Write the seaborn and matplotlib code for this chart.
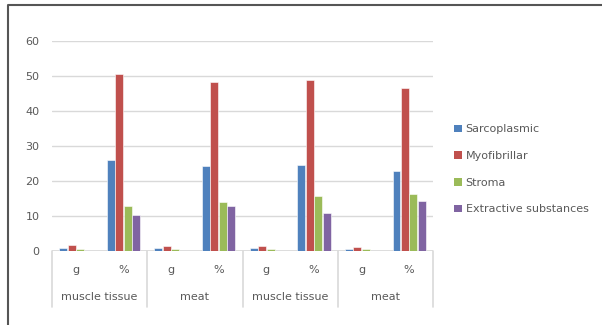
import matplotlib
matplotlib.use("Agg")
import matplotlib.pyplot as plt
import matplotlib.transforms as mtransforms
from matplotlib.lines import Line2D
from matplotlib.patches import Patch
import pandas as pd
import seaborn as sns

# data
groups = ["muscle tissue", "meat", "muscle tissue", "meat"]
units = ["g", "%"]
series = ["Sarcoplasmic", "Myofibrillar", "Stroma", "Extractive substances"]
sarcoplasmic = [0.9, 26.0, 0.8, 24.3, 0.8, 24.7, 0.5, 23.0]
myofibrillar = [1.8, 50.7, 1.5, 48.4, 1.5, 48.8, 1.2, 46.7]
stroma = [0.5, 12.8, 0.45, 14.1, 0.45, 15.6, 0.45, 16.2]
extractive = [0.1, 10.4, 0.1, 13.0, 0.1, 11.0, 0.1, 14.2]
colors = ["#4F81BD", "#C0504D", "#9BBB59", "#8064A2"]

# long-form table, one row per bar
slots = [f"{i}" for i in range(len(groups) * len(units))]
rows = []
for name, vals in zip(series, [sarcoplasmic, myofibrillar, stroma, extractive]):
    for slot, v in zip(slots, vals):
        rows.append({"slot": slot, "series": name, "value": v})
df = pd.DataFrame(rows)

sns.set_style("white")
plt.rcParams['font.family'] = ['DejaVu Sans']
text_color = "#595959"
line_color = "#D9D9D9"

fig = plt.figure(figsize=(6.02, 3.25), dpi=100)
ax = fig.add_axes([52 / 602, 1 - 251 / 325, (433 - 52) / 602, 210 / 325])

sns.barplot(data=df, x="slot", y="value", hue="series", order=slots,
            hue_order=series, palette=colors, saturation=1, width=0.71, gap=0.06,
            edgecolor="white", linewidth=0.4, errorbar=None, ax=ax)
ax.legend_.remove()

ax.set_ylim(0, 60)
ax.set_xlim(-0.5, len(slots) - 0.5)
ax.set_yticks(range(0, 61, 10))
ax.yaxis.grid(True, color=line_color, linewidth=1)
ax.set_axisbelow(True)
for s in ax.spines.values():
    s.set_visible(False)
ax.axhline(0, color=line_color, linewidth=1.2, zorder=0.5)
ax.tick_params(axis="y", length=0, pad=9, labelsize=8, labelcolor=text_color)
ax.set_xticks([])
ax.set_xlabel("")
ax.set_ylabel("")

# two-level category axis
trans = mtransforms.blended_transform_factory(ax.transData, ax.transAxes)
for i in range(len(slots)):
    ax.text(i, -0.09, units[i % 2], transform=trans, ha="center", va="center",
            fontsize=8, color=text_color)
for j, g in enumerate(groups):
    ax.text(2 * j + 0.5, -0.22, g, transform=trans, ha="center", va="center",
            fontsize=8, color=text_color)
for x in [-0.5, 1.5, 3.5, 5.5, 7.5]:
    ax.plot([x, x], [0, -0.265], transform=trans, color=line_color,
            linewidth=1.2, clip_on=False)

# legend on the right
handles = [Patch(facecolor=c, edgecolor="none") for c in colors]
fig.legend(handles, series, loc="upper left", bbox_to_anchor=(450 / 602, 1 - 120 / 325),
           frameon=False, fontsize=8, labelcolor=text_color, handlelength=0.7,
           handleheight=0.7, handletextpad=0.3, labelspacing=1.5, borderaxespad=0)

# chart frame (only top and left edge fall inside the picture)
fig.add_artist(Line2D([8 / 602, 8 / 602, 1], [0, 1 - 5 / 325, 1 - 5 / 325],
                      color="#555555", linewidth=1.5))

fig.savefig("out.png", dpi=100)
